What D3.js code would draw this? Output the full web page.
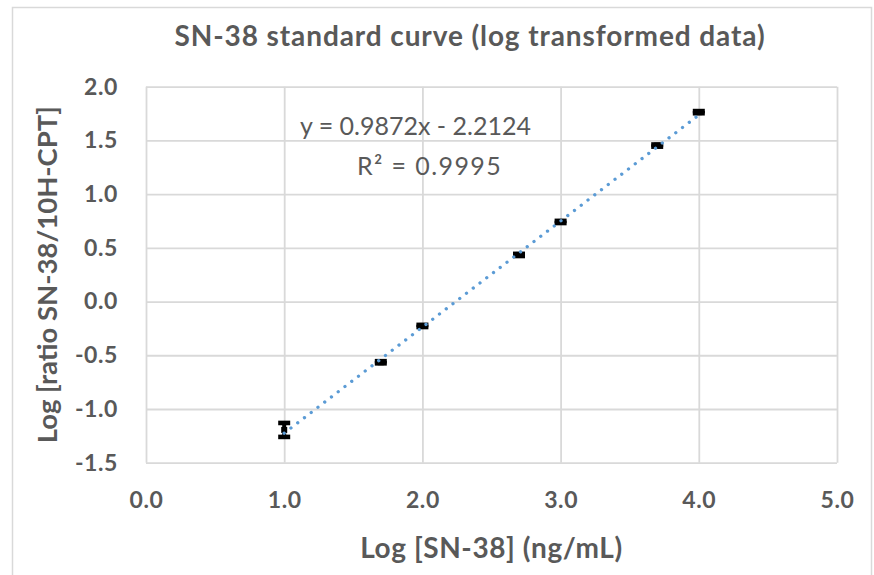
<!DOCTYPE html>
<html>
<head>
<meta charset="utf-8">
<script src="https://cdn.jsdelivr.net/npm/d3@7"></script>
<style>
    body { margin: 0; background: #fff; }
    text { font-family: Lato, "Open Sans", sans-serif; fill: #595959; }
</style>
</head>
<body>
<div id="chart"></div>
<script>
var svgWidth = 874;
var svgHeight = 575;

var margin = { top: 86.7, right: 37, bottom: 112.3, left: 146 };
var width = svgWidth - margin.left - margin.right;
var height = svgHeight - margin.top - margin.bottom;

// data
var logConc = [1.0, 1.699, 2.0, 2.699, 3.0, 3.699, 4.0];
var logRatio = [-1.195, -0.565, -0.227, 0.434, 0.741, 1.452, 1.763];
var errBar = [0.065, 0.01, 0.01, 0.01, 0.01, 0.01, 0.01];

var xTicks = [0, 1, 2, 3, 4, 5];
var yTicks = [-1.5, -1.0, -0.5, 0, 0.5, 1.0, 1.5, 2.0];

var slope = 0.9872;
var intercept = -2.2124;
var eqLabel = "y = 0.9872x - 2.2124";
var r2Label = "R² = 0.9995";

var points = logConc.map(function(x, i) {
    return { x: x, y: logRatio[i], err: errBar[i] };
});

var fmt = d3.formatLocale({ decimal: ".", thousands: ",", grouping: [3], currency: ["", ""], minus: "-" }).format(".1f");

var svg = d3.select("#chart")
    .append("svg")
    .attr("width", svgWidth)
    .attr("height", svgHeight);

// chart border
svg.append("rect")
    .attr("x", 12.5)
    .attr("y", 7.5)
    .attr("width", 859)
    .attr("height", 572)
    .attr("fill", "none")
    .attr("stroke", "#d9d9d9")
    .attr("stroke-width", 1.5);

var chartGroup = svg.append("g")
    .attr("transform", `translate(${margin.left}, ${margin.top})`);

var xScale = d3.scaleLinear().domain([0, 5]).range([0, width]);
var yScale = d3.scaleLinear().domain([-1.5, 2]).range([height, 0]);

// gridlines
var yGrid = chartGroup.append("g")
    .call(d3.axisLeft(yScale).tickValues(yTicks).tickSize(-width).tickFormat(""));
var xGrid = chartGroup.append("g")
    .attr("transform", `translate(0, ${height})`)
    .call(d3.axisBottom(xScale).tickValues(xTicks).tickSize(-height).tickFormat(""));
[yGrid, xGrid].forEach(function(g) {
    g.select(".domain").remove();
    g.selectAll("line").attr("stroke", "#d9d9d9").attr("stroke-width", 1.8);
});

// tick labels
var yAxis = chartGroup.append("g")
    .call(d3.axisLeft(yScale).tickValues(yTicks).tickSize(0).tickPadding(28).tickFormat(fmt));
var xAxis = chartGroup.append("g")
    .attr("transform", `translate(0, ${height})`)
    .call(d3.axisBottom(xScale).tickValues(xTicks).tickSize(0).tickPadding(29).tickFormat(fmt));
[yAxis, xAxis].forEach(function(g) {
    g.select(".domain").remove();
    g.selectAll("text")
        .attr("font-family", "Lato, sans-serif")
        .attr("font-size", "23px")
        .attr("font-weight", "bold")
        .attr("letter-spacing", "0.6px")
        .attr("fill", "#595959");
});

// error bars
var bars = chartGroup.selectAll(".errbar")
    .data(points)
    .enter()
    .append("g")
    .attr("class", "errbar");

bars.append("line")
    .attr("x1", d => xScale(d.x))
    .attr("x2", d => xScale(d.x))
    .attr("y1", d => yScale(d.y + d.err))
    .attr("y2", d => yScale(d.y - d.err))
    .attr("stroke", "black")
    .attr("stroke-width", 4);

[1, -1].forEach(function(sign) {
    bars.append("line")
        .attr("x1", d => xScale(d.x) - 6)
        .attr("x2", d => xScale(d.x) + 6)
        .attr("y1", d => yScale(d.y + sign * d.err))
        .attr("y2", d => yScale(d.y + sign * d.err))
        .attr("stroke", "black")
        .attr("stroke-width", 4.6);
});

// markers
chartGroup.selectAll(".marker")
    .data(points)
    .enter()
    .append("rect")
    .attr("class", "marker")
    .attr("x", d => xScale(d.x) - 3)
    .attr("y", d => yScale(d.y) - 3)
    .attr("width", 6)
    .attr("height", 6)
    .attr("fill", "black");

// linear trendline
var xExtent = d3.extent(logConc);
var trend = xExtent.map(function(x) { return { x: x, y: slope * x + intercept }; });
chartGroup.append("path")
    .datum(trend)
    .attr("d", d3.line().x(d => xScale(d.x)).y(d => yScale(d.y)))
    .attr("fill", "none")
    .attr("stroke", "#5b9bd5")
    .attr("stroke-width", 3.3)
    .attr("stroke-linecap", "round")
    .attr("stroke-dasharray", "0.01 8.5");

// trendline label
svg.append("text")
    .attr("x", 300)
    .attr("y", 135)
    .attr("font-size", "25px")
    .text(eqLabel);
svg.append("text")
    .attr("x", 357)
    .attr("y", 175)
    .attr("font-size", "25px")
    .attr("letter-spacing", "1.4px")
    .text(r2Label);

// title
svg.append("text")
    .attr("x", 470)
    .attr("y", 46)
    .attr("text-anchor", "middle")
    .attr("font-size", "28px")
    .attr("font-weight", "bold")
    .attr("letter-spacing", "0.9px")
    .text("SN-38 standard curve (log transformed data)");

// axis titles
svg.append("text")
    .attr("x", margin.left + width / 2)
    .attr("y", 558)
    .attr("text-anchor", "middle")
    .attr("font-size", "28px")
    .attr("font-weight", "bold")
    .attr("letter-spacing", "0.6px")
    .text("Log [SN-38] (ng/mL)");

svg.append("text")
    .attr("transform", `translate(57, ${margin.top + height / 2}) rotate(-90)`)
    .attr("text-anchor", "middle")
    .attr("font-size", "27.5px")
    .attr("font-weight", "bold")
    .text("Log [ratio SN-38/10H-CPT]");
</script>
</body>
</html>
